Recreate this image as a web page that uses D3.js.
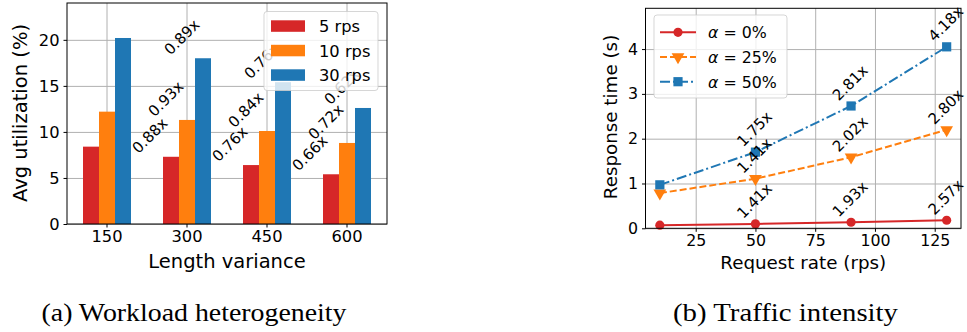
<!DOCTYPE html>
<html>
<head>
<meta charset="utf-8">
<script src="https://cdn.jsdelivr.net/npm/d3@7"></script>
<style>
  body { margin: 0; background: #fff; }
  svg { display: block; font-family: "DejaVu Sans", sans-serif; }
  .grid line { stroke: #b0b0b0; stroke-width: 1; }
  .grid path { display: none; }
  .axis path { display: none; }
  .axis line { stroke: #000; stroke-width: 1; }
</style>
</head>
<body>
<svg id="chart" width="967" height="332"></svg>
<script>
// ---- left: workload heterogeneity ----
const lengthVariance = ["150", "300", "450", "600"];
const rpsSeries = ["5 rps", "10 rps", "30 rps"];
const util5 = [8.4, 7.3, 6.4, 5.4];
const util10 = [12.2, 11.3, 10.1, 8.8];
const util30 = [20.2, 18.0, 15.4, 12.6];
const ratio5 = ["", "0.88x", "0.76x", "0.66x"];
const ratio10 = ["", "0.93x", "0.84x", "0.72x"];
const ratio30 = ["", "0.89x", "0.76x", "0.62x"];
const utilTicks = [0, 5, 10, 15, 20];

// ---- right: traffic intensity ----
const requestRate = [10, 50, 90, 130];
const alphaSeries = ["0%", "25%", "50%"];
const resp0 = [0.07, 0.0987, 0.135, 0.18];
const resp25 = [0.785, 1.107, 1.586, 2.198];
const resp50 = [0.97, 1.70, 2.73, 4.05];
const respRatio0 = ["", "1.41x", "1.93x", "2.57x"];
const respRatio25 = ["", "1.41x", "2.02x", "2.80x"];
const respRatio50 = ["", "1.75x", "2.81x", "4.18x"];
const rateTicks = [25, 50, 75, 100, 125];
const respTicks = [0, 1, 2, 3, 4];

const colors = ["#d62728", "#ff7f0e", "#1f77b4"];
const FONT = "DejaVu Sans, sans-serif";
const svg = d3.select("#chart");

// place a -45deg rotated label so its bbox is aligned (matplotlib style)
function rotLabel(g, text, ax, ay, size, ha) {
  const t = g.append("text").attr("font-size", size).text(text);
  const L = t.node().getComputedTextLength();
  const a = 0.76 * size, d = 0.24 * size, k = Math.SQRT1_2;
  let ox = ha === "right" ? ax - k * (L + d) : ax - k * (L + d - a) / 2;
  let oy = ay - k * d;
  t.attr("transform", `translate(${ox},${oy}) rotate(-45)`);
}

function styleAxis(sel, size) {
  sel.attr("font-family", FONT);
  sel.selectAll("text").attr("font-size", size).attr("fill", "#000");
}

// ================= LEFT =================
{
  const L = 67, R = 387, T = 3, B = 224;
  const x = d3.scaleBand().domain(lengthVariance).range([L, R]);
  const xs = d3.scaleBand().domain(rpsSeries).range([-24, 24]);
  const y = d3.scaleLinear().domain([0, 24]).range([B, T]);
  const g = svg.append("g");

  g.append("g").attr("class", "grid").attr("transform", `translate(0,${B})`)
    .call(d3.axisBottom(x).tickSize(-(B - T)).tickFormat(""));
  g.append("g").attr("class", "grid").attr("transform", `translate(${L},0)`)
    .call(d3.axisLeft(y).tickValues(utilTicks).tickSize(-(R - L)).tickFormat(""));

  const series = [util5, util10, util30];
  const ratios = [ratio5, ratio10, ratio30];
  series.forEach((vals, si) => {
    g.append("g").selectAll("rect").data(vals).enter().append("rect")
      .attr("x", (d, i) => x(lengthVariance[i]) + x.bandwidth() / 2 + xs(rpsSeries[si]))
      .attr("y", d => y(d))
      .attr("width", xs.bandwidth())
      .attr("height", d => B - y(d))
      .attr("fill", colors[si]);
  });
  const ann = g.append("g");
  series.forEach((vals, si) => {
    vals.forEach((v, i) => {
      if (!ratios[si][i]) return;
      const cx = x(lengthVariance[i]) + x.bandwidth() / 2 + xs(rpsSeries[si]) + xs.bandwidth() / 2;
      rotLabel(ann, ratios[si][i], cx, y(v), 15, "right");
    });
  });

  const xa = g.append("g").attr("class", "axis").attr("transform", `translate(0,${B})`)
    .call(d3.axisBottom(x).tickSize(3.5).tickPadding(3));
  styleAxis(xa, 16.3);
  const ya = g.append("g").attr("class", "axis").attr("transform", `translate(${L},0)`)
    .call(d3.axisLeft(y).tickValues(utilTicks).tickSize(3.5).tickPadding(4));
  styleAxis(ya, 16.3);

  g.append("rect").attr("x", L).attr("y", T).attr("width", R - L).attr("height", B - T)
    .attr("fill", "none").attr("stroke", "#000").attr("stroke-width", 1);

  g.append("text").attr("x", (L + R) / 2).attr("y", 268).attr("text-anchor", "middle")
    .attr("font-size", 19.5).text("Length variance");
  g.append("text").attr("transform", `translate(27,113) rotate(-90)`).attr("text-anchor", "middle")
    .attr("font-size", 19.5).text("Avg utilization (%)");

  // legend
  const lg = g.append("g");
  lg.append("rect").attr("x", 264).attr("y", 11.5).attr("width", 114).attr("height", 79).attr("rx", 3)
    .attr("fill", "#fff").attr("fill-opacity", 0.8).attr("stroke", "#cccccc").attr("stroke-opacity", 0.8);
  rpsSeries.forEach((s, i) => {
    const cy = 26 + i * 24.5;
    lg.append("rect").attr("x", 271).attr("y", cy - 5.7).attr("width", 34).attr("height", 11.5).attr("fill", colors[i]);
    lg.append("text").attr("x", 319).attr("y", cy + 6).attr("font-size", 16.3).text(s);
  });

  svg.append("text").attr("x", 194).attr("y", 321).attr("text-anchor", "middle")
    .attr("font-family", "Liberation Serif, serif").attr("font-size", 25)
    .attr("textLength", 305).attr("lengthAdjust", "spacingAndGlyphs").text("(a) Workload heterogeneity");
}

// ================= RIGHT =================
{
  const L = 645.5, R = 961, T = 8.3, B = 228.3;
  const x = d3.scaleLinear().domain([4, 136]).range([L, R]);
  const y = d3.scaleLinear().domain([0, 4.91]).range([B, T]);
  const g = svg.append("g");

  g.append("g").attr("class", "grid").attr("transform", `translate(0,${B})`)
    .call(d3.axisBottom(x).tickValues(rateTicks).tickSize(-(B - T)).tickFormat(""));
  g.append("g").attr("class", "grid").attr("transform", `translate(${L},0)`)
    .call(d3.axisLeft(y).tickValues(respTicks).tickSize(-(R - L)).tickFormat(""));

  const series = [resp0, resp25, resp50];
  const ratios = [respRatio0, respRatio25, respRatio50];
  const dashes = [null, "7,3", "10,3,2,3"];
  const line = d3.line().x((d, i) => x(requestRate[i])).y(d => y(d));

  function marker(sel, si, cx, cy) {
    if (si === 0) {
      sel.append("circle").attr("cx", cx).attr("cy", cy).attr("r", 4.6).attr("fill", colors[0]);
    } else if (si === 1) {
      sel.append("path").attr("d", d3.symbol(d3.symbolTriangle, 70)())
        .attr("transform", `translate(${cx},${cy}) rotate(180)`).attr("fill", colors[1]);
    } else {
      sel.append("rect").attr("x", cx - 4.6).attr("y", cy - 4.6).attr("width", 9.2).attr("height", 9.2)
        .attr("fill", colors[2]);
    }
  }

  series.forEach((vals, si) => {
    g.append("path").datum(vals).attr("d", line).attr("fill", "none")
      .attr("stroke", colors[si]).attr("stroke-width", 2)
      .attr("stroke-dasharray", dashes[si]);
    vals.forEach((v, i) => marker(g, si, x(requestRate[i]), y(v)));
  });
  series.forEach((vals, si) => {
    vals.forEach((v, i) => {
      if (!ratios[si][i]) return;
      rotLabel(g, ratios[si][i], x(requestRate[i]), y(v) - 2, 15, "center");
    });
  });

  const xa = g.append("g").attr("class", "axis").attr("transform", `translate(0,${B})`)
    .call(d3.axisBottom(x).tickValues(rateTicks).tickSize(3.5).tickPadding(3).tickFormat(d3.format("d")));
  styleAxis(xa, 15.8);
  const ya = g.append("g").attr("class", "axis").attr("transform", `translate(${L},0)`)
    .call(d3.axisLeft(y).tickValues(respTicks).tickSize(3.5).tickPadding(4).tickFormat(d3.format("d")));
  styleAxis(ya, 15.8);

  g.append("rect").attr("x", L).attr("y", T).attr("width", R - L).attr("height", B - T)
    .attr("fill", "none").attr("stroke", "#000").attr("stroke-width", 1);

  g.append("text").attr("x", (L + R) / 2).attr("y", 269).attr("text-anchor", "middle")
    .attr("font-size", 18.3).text("Request rate (rps)");
  g.append("text").attr("transform", `translate(617,117) rotate(-90)`).attr("text-anchor", "middle")
    .attr("font-size", 18.3).text("Response time (s)");

  // legend
  const lg = g.append("g");
  lg.append("rect").attr("x", 654).attr("y", 15).attr("width", 133).attr("height", 83).attr("rx", 3)
    .attr("fill", "#fff").attr("fill-opacity", 0.8).attr("stroke", "#cccccc").attr("stroke-opacity", 0.8);
  alphaSeries.forEach((s, i) => {
    const cy = 32.3 + i * 24.7;
    lg.append("line").attr("x1", 660).attr("x2", 696).attr("y1", cy).attr("y2", cy)
      .attr("stroke", colors[i]).attr("stroke-width", 2).attr("stroke-dasharray", dashes[i]);
    marker(lg, i, 678, cy);
    const t = lg.append("text").attr("x", 708).attr("y", cy + 6).attr("font-size", 15.8);
    t.append("tspan").attr("font-style", "italic").text("α");
    t.append("tspan").text(" = " + s);
  });

  svg.append("text").attr("x", 785.5).attr("y", 321).attr("text-anchor", "middle")
    .attr("font-family", "Liberation Serif, serif").attr("font-size", 25)
    .attr("textLength", 225).attr("lengthAdjust", "spacingAndGlyphs").text("(b) Traffic intensity");
}
</script>
</body>
</html>
